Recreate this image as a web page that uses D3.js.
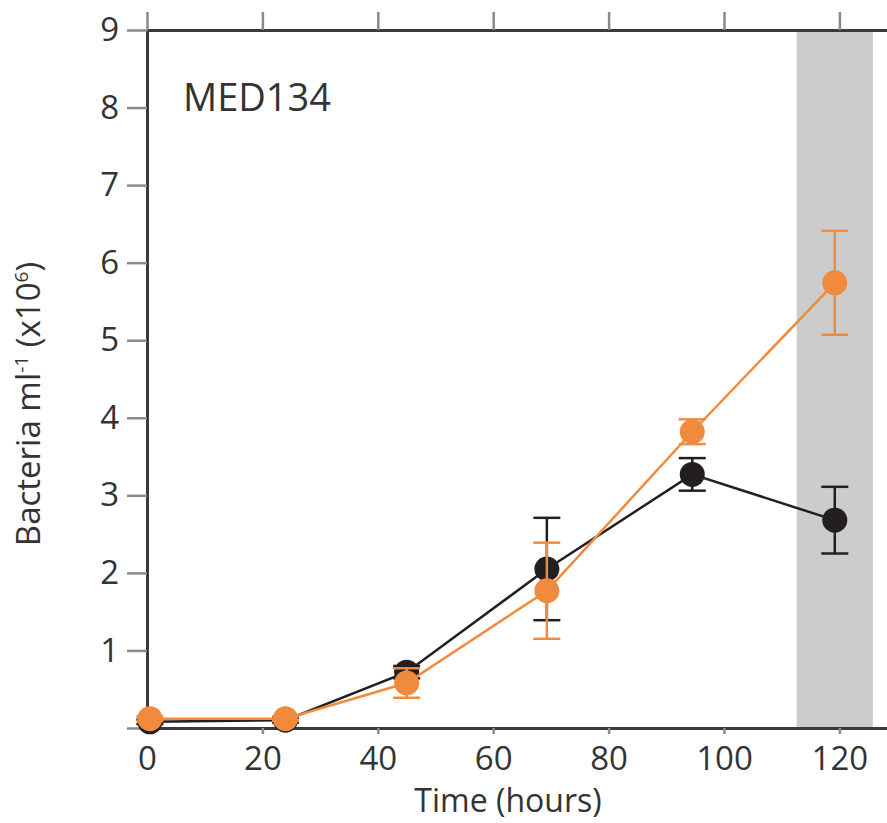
<!DOCTYPE html>
<meta charset="utf-8">
<style>
body { margin: 0; background: #fff; }
text { font-family: "Open Sans", sans-serif; fill: #333; }
.axis path { stroke: #3a3a3a; stroke-width: 3; }
.axis line { stroke: #8a8a8a; stroke-width: 2.5; }
.axis text { font-size: 33px; fill: #333; }
</style>
<svg width="887" height="823"></svg>
<script src="https://d3js.org/d3.v7.min.js"></script>
<script>

// time points (hours)
var hours = [0.5, 24, 45, 69.3, 94.5, 119.2];

// control (black) and treatment (orange), bacteria ml-1 x10^6
var blackMean = [0.08, 0.1, 0.72, 2.05, 3.27, 2.68];
var blackErr  = [0.03, 0.03, 0.08, 0.66, 0.21, 0.43];
var orangeMean = [0.12, 0.12, 0.58, 1.77, 3.82, 5.74];
var orangeErr  = [0.03, 0.03, 0.19, 0.62, 0.16, 0.67];

var xTicks = [0, 20, 40, 60, 80, 100, 120];
var yTicks = [0, 1, 2, 3, 4, 5, 6, 7, 8, 9];
var shade = [112.6, 125.8];

var svg = d3.select("svg");

// plot box in page pixels
var pLeft = 147, pTop = 30, pBottom = 728, pRight = 887;

var x = d3.scaleLinear().domain([0, 128.25]).range([pLeft, pRight]);
var y = d3.scaleLinear().domain([0, 9]).range([pBottom, pTop]);

// grey band for the last sample
svg.append("rect")
    .attr("x", x(shade[0]))
    .attr("y", pTop)
    .attr("width", x(shade[1]) - x(shade[0]))
    .attr("height", pBottom - pTop)
    .attr("fill", "#cccccc");

// axes
svg.append("g")
    .attr("class", "axis xb")
    .attr("transform", "translate(0," + pBottom + ")")
    .call(d3.axisBottom(x).tickValues(xTicks).tickSize(6).tickSizeOuter(0).tickPadding(10));

svg.append("g")
    .attr("class", "axis")
    .attr("transform", "translate(0," + pTop + ")")
    .call(d3.axisTop(x).tickValues(xTicks).tickSize(18).tickSizeOuter(0).tickFormat(""));

svg.append("g")
    .attr("class", "axis")
    .attr("transform", "translate(" + pLeft + ",0)")
    .call(d3.axisLeft(y).tickValues(yTicks).tickSize(20).tickSizeOuter(0).tickPadding(8)
      .tickFormat(function(d) { return d === 0 ? "" : d; }));

// x tick labels sit a bit lower
svg.selectAll(".xb text").attr("y", 19);

function series(mean, err, color) {
  var pts = hours.map(function(h, i) { return {t: h, v: mean[i], e: err[i]}; });
  var g = svg.append("g");

  g.append("path")
      .datum(pts)
      .attr("fill", "none")
      .attr("stroke", color)
      .attr("stroke-width", 2.5)
      .attr("d", d3.line().x(function(d) { return x(d.t); }).y(function(d) { return y(d.v); }));

  var eb = g.selectAll(".eb").data(pts).enter().append("g");
  eb.append("line")
      .attr("x1", function(d) { return x(d.t); })
      .attr("x2", function(d) { return x(d.t); })
      .attr("y1", function(d) { return y(d.v + d.e); })
      .attr("y2", function(d) { return y(d.v - d.e); });
  eb.append("line")
      .attr("x1", function(d) { return x(d.t) - 13.5; })
      .attr("x2", function(d) { return x(d.t) + 13.5; })
      .attr("y1", function(d) { return y(d.v + d.e); })
      .attr("y2", function(d) { return y(d.v + d.e); });
  eb.append("line")
      .attr("x1", function(d) { return x(d.t) - 13.5; })
      .attr("x2", function(d) { return x(d.t) + 13.5; })
      .attr("y1", function(d) { return y(d.v - d.e); })
      .attr("y2", function(d) { return y(d.v - d.e); });
  eb.selectAll("line").attr("stroke", color).attr("stroke-width", 2.5);

  g.selectAll("circle").data(pts).enter().append("circle")
      .attr("cx", function(d) { return x(d.t); })
      .attr("cy", function(d) { return y(d.v); })
      .attr("r", 12.5)
      .attr("fill", color);
}

series(blackMean, blackErr, "#231f20");
series(orangeMean, orangeErr, "#f08a3c");

// labels
svg.append("text")
    .attr("x", 183)
    .attr("y", 111)
    .attr("font-size", 38)
    .text("MED134");

svg.append("text")
    .attr("x", 508)
    .attr("y", 812)
    .attr("text-anchor", "middle")
    .attr("font-size", 32)
    .text("Time (hours)");

var yl = svg.append("text")
    .attr("transform", "translate(40,404) rotate(-90)")
    .attr("text-anchor", "middle")
    .attr("font-size", 33);
yl.append("tspan").text("Bacteria ml");
yl.append("tspan").attr("font-size", 19).attr("dy", -12).text("-1");
yl.append("tspan").attr("dy", 12).text(" (x10");
yl.append("tspan").attr("font-size", 19).attr("dy", -12).text("6");
yl.append("tspan").attr("dy", 12).text(")");

</script>
